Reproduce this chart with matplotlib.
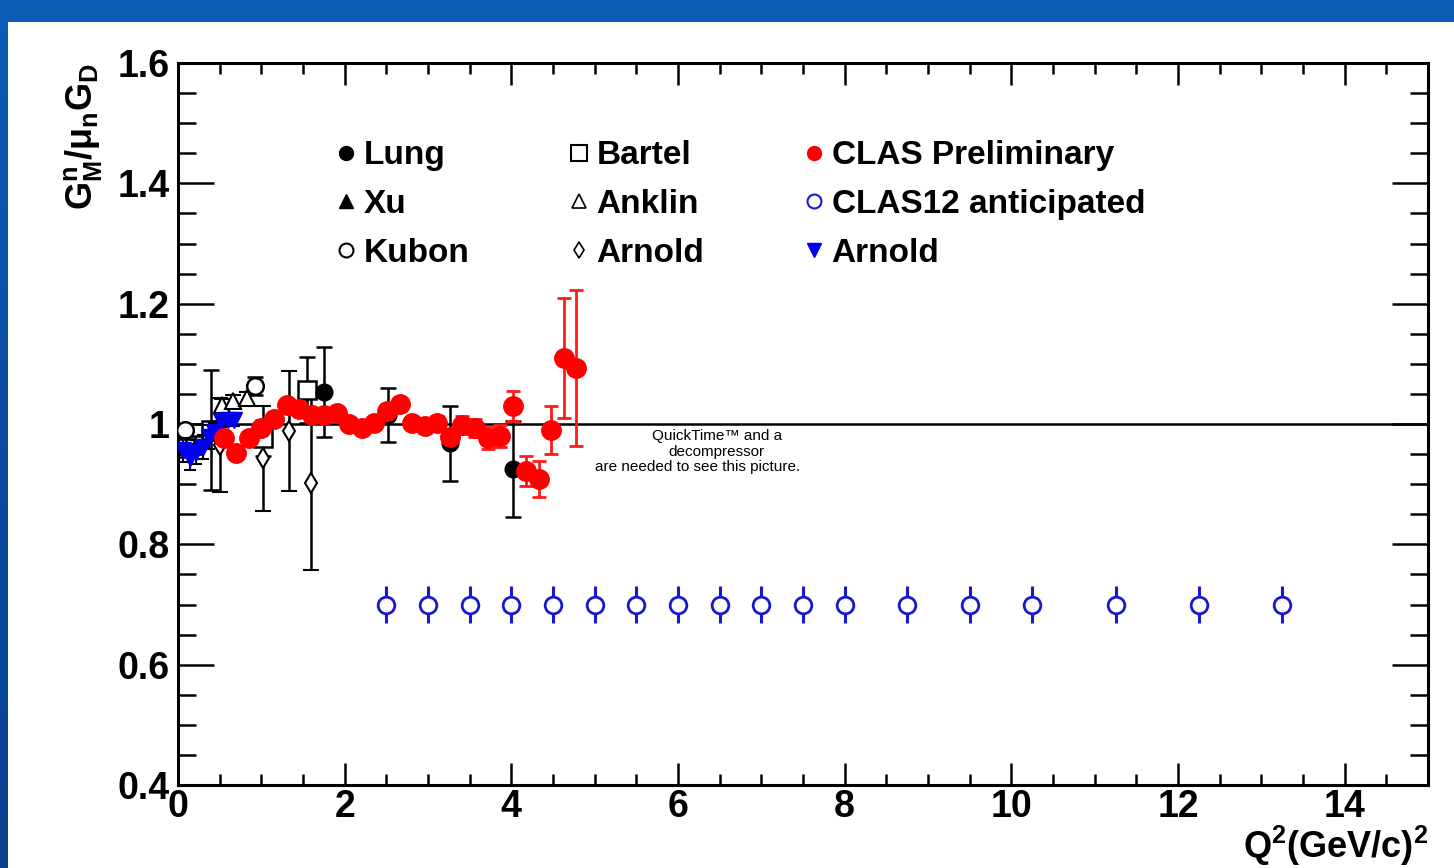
import matplotlib
matplotlib.use("Agg")
import matplotlib.pyplot as plt
from matplotlib.lines import Line2D
from matplotlib.patches import Rectangle
from matplotlib.ticker import MultipleLocator, FuncFormatter
import numpy as np

plt.rcParams['font.family'] = ['Liberation Sans', 'DejaVu Sans']
plt.rcParams['font.weight'] = 'bold'
plt.rcParams['mathtext.fontset'] = 'custom'
plt.rcParams['mathtext.rm'] = 'Liberation Sans:bold'
plt.rcParams['mathtext.it'] = 'Liberation Sans:bold'
plt.rcParams['mathtext.bf'] = 'Liberation Sans:bold'

# ---------------- data ----------------
clas_x = [0.55, 0.70, 0.85, 1.00, 1.15, 1.31, 1.45, 1.61, 1.75, 1.91, 2.05, 2.21, 2.35,
          2.51, 2.66, 2.81, 2.96, 3.11, 3.26, 3.41, 3.56, 3.72, 3.86, 4.02, 4.17, 4.33,
          4.47, 4.63, 4.78]
clas_y = [0.977, 0.952, 0.977, 0.993, 1.008, 1.032, 1.025, 1.015, 1.015, 1.018, 1.000,
          0.993, 1.002, 1.022, 1.033, 1.002, 0.997, 1.002, 0.978, 0.998, 0.993, 0.977,
          0.980, 1.030, 0.922, 0.909, 0.990, 1.110, 1.093]
clas_e = [0.008, 0.008, 0.008, 0.008, 0.008, 0.008, 0.008, 0.008, 0.008, 0.008, 0.008,
          0.008, 0.008, 0.010, 0.010, 0.010, 0.012, 0.012, 0.012, 0.015, 0.015, 0.018,
          0.018, 0.025, 0.025, 0.030, 0.040, 0.100, 0.130]

clas12_x = [2.5, 3.0, 3.5, 4.0, 4.5, 5.0, 5.5, 6.0, 6.5, 7.0, 7.5, 8.0,
            8.75, 9.5, 10.25, 11.25, 12.25, 13.25]
clas12_y = [0.70] * 18
clas12_e = [0.03] * 18

lung_x = [1.75, 2.52, 3.26, 4.02]
lung_y = [1.053, 1.015, 0.968, 0.925]
lung_e = [0.075, 0.045, 0.062, 0.080]

xu_x = [0.10, 0.20, 0.50]
xu_y = [0.960, 0.965, 0.990]
xu_e = [0.015, 0.015, 0.015]

kubon_x = [0.08, 0.92]
kubon_y = [0.990, 1.063]
kubon_e = [0.010, 0.015]

bartel_x = [0.39, 1.02, 1.55]
bartel_y = [0.990, 0.977, 1.056]
bartel_e = [0.100, 0.030, 0.055]

anklin_x = [0.53, 0.66, 0.83]
anklin_y = [1.032, 1.038, 1.043]
anklin_e = [0.010, 0.010, 0.010]

arnold_x = [0.50, 1.02, 1.33, 1.60]
arnold_y = [0.965, 0.943, 0.988, 0.902]
arnold_e = [0.078, 0.087, 0.100, 0.145]

arnoldb_x = [0.06, 0.14, 0.22, 0.30, 0.37, 0.43, 0.52, 0.60, 0.67]
arnoldb_y = [0.957, 0.943, 0.953, 0.962, 0.978, 0.987, 1.005, 1.007, 1.007]
arnoldb_e = [0.020, 0.020, 0.020, 0.020, 0.020, 0.015, 0.010, 0.010, 0.010]

legend_labels = ['Lung', 'Xu', 'Kubon', 'Bartel', 'Anklin', 'Arnold',
                 'CLAS Preliminary', 'CLAS12 anticipated', 'Arnold']

qt_lines = ['QuickTime\u2122 and a', 'decompressor', 'are needed to see this picture.']

# ---------------- figure ----------------
W, H = 1454, 868
fig = plt.figure(figsize=(W / 100, H / 100), dpi=100, facecolor='#0c5bb4')
bg = fig.add_axes([8 / W, 0, 1 - 8 / W, 1 - 22 / H])
bg.set_axis_off()
bg.add_patch(Rectangle((0, 0), 1, 1, transform=bg.transAxes, facecolor='white', edgecolor='none'))
# darker gradient on left strip
grad = fig.add_axes([0, 0, 8 / W, 1 - 22 / H])
grad.imshow(np.linspace(0, 1, 100).reshape(-1, 1), aspect='auto', origin='upper',
            cmap=matplotlib.colors.LinearSegmentedColormap.from_list('g', ['#0c5bb4', '#0a3f8f']))
grad.set_axis_off()

ax = fig.add_axes([178 / W, 1 - 785 / H, 1250 / W, 722 / H])
ax.set_facecolor('white')
ax.set_xlim(0, 15)
ax.set_ylim(0.4, 1.6)

ax.axhline(1.0, color='black', lw=1.8, zorder=1)

black_eb = dict(ecolor='black', elinewidth=1.8, capsize=6, capthick=1.8, ls='none')

ax.errorbar(arnold_x, arnold_y, yerr=arnold_e, fmt='d', ms=10, mfc='white', mec='black',
            mew=1.5, zorder=3, **black_eb)
ax.errorbar(bartel_x, bartel_y, yerr=bartel_e, fmt='s', ms=13, mfc='white', mec='black',
            mew=1.8, zorder=3, **black_eb)
ax.errorbar(xu_x, xu_y, yerr=xu_e, fmt='^', ms=10, mfc='black', mec='black',
            zorder=3, **black_eb)
ax.errorbar(anklin_x, anklin_y, yerr=anklin_e, fmt='^', ms=11, mfc='white', mec='black',
            mew=1.5, zorder=3, **black_eb)
ax.errorbar(kubon_x, kubon_y, yerr=kubon_e, fmt='o', ms=12, mfc='white', mec='black',
            mew=1.8, zorder=3, **black_eb)
ax.errorbar(lung_x, lung_y, yerr=lung_e, fmt='o', ms=12, mfc='black', mec='black',
            zorder=3, **black_eb)
ax.errorbar(arnoldb_x, arnoldb_y, yerr=arnoldb_e, fmt='v', ms=12, mfc='#0000ee', mec='#0000ee',
            ecolor='black', elinewidth=1.5, capsize=4, capthick=1.5, ls='none', zorder=4)
ax.errorbar(clas_x, clas_y, yerr=clas_e, fmt='o', ms=14, mfc='#ff0000', mec='#ff0000',
            ecolor='#ff1a1a', elinewidth=2, capsize=5, capthick=2, ls='none', zorder=5)
ax.errorbar(clas12_x, clas12_y, yerr=clas12_e, fmt='o', ms=12, mfc='white', mec='#1818d0',
            mew=2, ecolor='#1818d0', elinewidth=2.2, capsize=0, ls='none', zorder=5)

# axes styling
for s in ax.spines.values():
    s.set_linewidth(2.2)
ax.xaxis.set_major_locator(MultipleLocator(2))
ax.xaxis.set_minor_locator(MultipleLocator(0.5))
ax.yaxis.set_major_locator(MultipleLocator(0.2))
ax.yaxis.set_minor_locator(MultipleLocator(0.05))
ax.xaxis.set_major_formatter(FuncFormatter(lambda v, p: '%g' % round(v, 3)))
ax.yaxis.set_major_formatter(FuncFormatter(lambda v, p: '%g' % round(v, 3)))
ax.tick_params(axis='x', which='major', direction='in', length=16, width=1.8,
               top=True, bottom=True, labelsize=27, pad=3)
ax.tick_params(axis='x', which='minor', direction='in', length=8, width=1.8,
               top=True, bottom=True)
ax.tick_params(axis='y', which='major', direction='in', length=26, width=1.8,
               left=True, right=True, labelsize=27, pad=6)
ax.tick_params(axis='y', which='minor', direction='in', length=13, width=1.8,
               left=True, right=True)
for lab in ax.get_xticklabels() + ax.get_yticklabels():
    lab.set_fontweight('bold')

ax.set_xlabel('Q$^{2}$(GeV/c)$^{2}$', fontsize=26, fontweight='bold', loc='right', labelpad=-1)
ax.set_ylabel(r'G$^{n}_{M}$/$\mu_{n}$G$_{D}$', fontsize=26, fontweight='bold', loc='top',
              labelpad=10)

# legend
handles = [
    Line2D([], [], ls='none', marker='o', ms=10, mfc='black', mec='black'),
    Line2D([], [], ls='none', marker='^', ms=10, mfc='black', mec='black'),
    Line2D([], [], ls='none', marker='o', ms=10, mfc='white', mec='black', mew=1.5),
    Line2D([], [], ls='none', marker='s', ms=12, mfc='white', mec='black', mew=1.5),
    Line2D([], [], ls='none', marker='^', ms=10, mfc='white', mec='black', mew=1.2),
    Line2D([], [], ls='none', marker='d', ms=8, mfc='white', mec='black', mew=1.2),
    Line2D([], [], ls='none', marker='o', ms=10, mfc='#ff0000', mec='#ff0000'),
    Line2D([], [], ls='none', marker='o', ms=10, mfc='white', mec='#1818d0', mew=1.5),
    Line2D([], [], ls='none', marker='v', ms=10, mfc='#0000ee', mec='#0000ee'),
]
leg = ax.legend(handles, legend_labels, ncol=3, loc='upper left', bbox_to_anchor=(0.1264, 0.893),
                frameon=False, prop={'weight': 'bold', 'size': 24}, handlelength=0.6,
                handletextpad=0.22, columnspacing=3.0, labelspacing=0.53, borderpad=0,
                borderaxespad=0)

qt_x = [0.431, 0.431, 0.416]
qt_y = [0.4834, 0.4612, 0.4404]
for s, xx, yy in zip(qt_lines, qt_x, qt_y):
    ax.text(xx, yy, s, transform=ax.transAxes, ha='center', va='center', fontsize=11,
            fontweight='normal', family='Liberation Sans')

fig.savefig('out.png', dpi=100, facecolor=fig.get_facecolor())
